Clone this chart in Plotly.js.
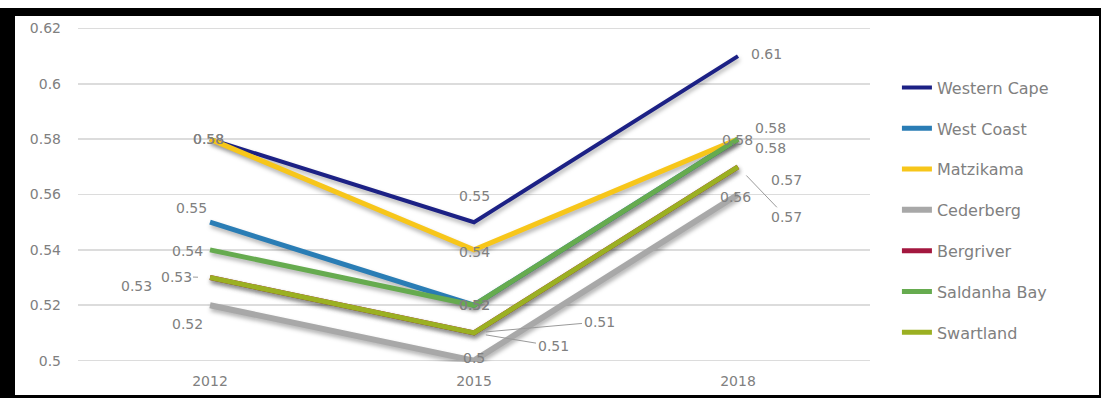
<!DOCTYPE html>
<html><head><meta charset="utf-8">
<script src="https://cdn.plot.ly/plotly-3.0.1.min.js"></script>
<style>
html,body{margin:0;padding:0;background:#fff;overflow:hidden}
#chart{width:1101px;height:398px;position:absolute;left:0;top:0}
.bar{position:absolute;background:#000;pointer-events:none}
#chart .scatterlayer path.js-line{filter:drop-shadow(1px 3px 2px rgba(0,0,0,0.3))}
</style></head><body>
<div id="chart"></div>
<div class="bar" style="left:0;top:8px;width:1101px;height:8px"></div>
<div class="bar" style="left:0;top:8px;width:15px;height:390px"></div>
<div class="bar" style="left:0;top:395px;width:1101px;height:3px"></div>
<div class="bar" style="left:1099px;top:8px;width:2px;height:390px"></div>
<script>
// ---- data ----
const years = ['2012', '2015', '2018'];
const seriesNames = ['Western Cape', 'West Coast', 'Matzikama', 'Cederberg', 'Bergriver', 'Saldanha Bay', 'Swartland'];
const westernCape = [0.58, 0.55, 0.61];
const westCoast   = [0.55, 0.52, 0.58];
const matzikama   = [0.58, 0.54, 0.58];
const cederberg   = [0.52, 0.50, 0.56];
const bergriver   = [0.53, 0.51, 0.57];
const saldanhaBay = [0.54, 0.52, 0.58];
const swartland   = [0.53, 0.51, 0.57];
const yTicks = [0.5, 0.52, 0.54, 0.56, 0.58, 0.6, 0.62];

// ---- style ----
const seriesValues = [westernCape, westCoast, matzikama, cederberg, bergriver, saldanhaBay, swartland];
const colors = ['#1c2185', '#2a7db5', '#f7c61a', '#a8a8a8', '#a3173f', '#66ab4f', '#9bb022'];
const widths = [4, 5, 5, 6, 5, 5, 5];
// label offsets in px [dx, dy, leader?] per series per year
const labelOffsets = [
  [[-2, 0, 0], [0, -26, 0], [28, -2, 0]],
  [[-19, -14, 0], [0, 0, 0], [-1, 1, 0]],
  [[-2, 0, 0], [0, 2, 0], [32, -11, 0]],
  [[-23, 19, 0], [0, -3, 0], [-3, 2, 0]],
  [[-74, 8, 0], [79, 13, 1], [48, 50, 1]],
  [[-23, 1, 0], [0, 0, 0], [32, 9, 0]],
  [[-34, -1, 1], [125, -11, 1], [48, 13, 0]]
];
const grey = '#808080';
const fontFamily = 'DejaVu Sans, sans-serif';

const traces = seriesNames.map((name, i) => ({
  type: 'scatter', mode: 'lines', name: name,
  x: years, y: seriesValues[i],
  legendgroup: 'g' + i,
  line: {color: colors[i], width: widths[i]},
  hoverinfo: 'x+y+name'
}));

const annotations = [];
seriesValues.forEach((vals, i) => {
  vals.forEach((v, j) => {
    const o = labelOffsets[i][j];
    // category index j (years[j]) on the category axis
    const base = {x: j, y: v, xref: 'x', yref: 'y', text: String(v),
      font: {family: fontFamily, size: 14, color: grey}};
    if (o[2]) {
      annotations.push(Object.assign(base, {showarrow: true, arrowhead: 0, arrowwidth: 1,
        arrowcolor: '#9a9a9a', ax: o[0], ay: o[1], standoff: 12}));
    } else {
      annotations.push(Object.assign(base, {showarrow: false, xshift: o[0], yshift: -o[1]}));
    }
  });
});

const layout = {
  width: 1101, height: 398,
  margin: {l: 78, r: 231, t: 27, b: 36, pad: 0},
  paper_bgcolor: '#ffffff', plot_bgcolor: '#ffffff',
  font: {family: fontFamily, color: grey, size: 14},
  showlegend: true,
  legend: {x: 1.034, xanchor: 'left', y: 0.87, yanchor: 'top',
    font: {family: fontFamily, size: 16, color: grey},
    tracegroupgap: 17, bgcolor: 'rgba(0,0,0,0)'},
  xaxis: {type: 'category', range: [-0.5, 2.5], showgrid: false, zeroline: false,
    showline: false, ticks: '', ticklabelstandoff: 9, tickfont: {size: 14, color: grey}, fixedrange: true},
  yaxis: {range: [0.4995, 0.6205], tickvals: yTicks, ticktext: yTicks.map(String),
    showgrid: true, gridcolor: '#dcdcdc', gridwidth: 1.5, zeroline: false, showline: false,
    ticks: '', ticklabelstandoff: 16, tickfont: {size: 14, color: grey}, fixedrange: true},
  annotations: annotations
};

Plotly.newPlot('chart', traces, layout, {displayModeBar: false, staticPlot: true});
</script>
</body></html>
